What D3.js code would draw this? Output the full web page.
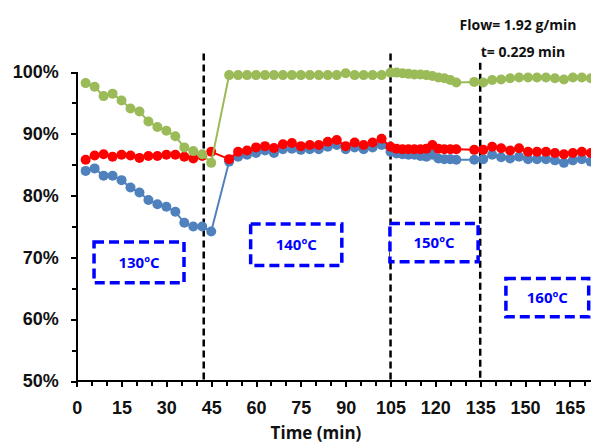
<!DOCTYPE html>
<html lang="en">
	<head>
		<meta charset="utf-8">
		<title>conversion vs time</title>
		<style>
			body {
				margin: 0;
				background-color: #ffffff;
				font-family: "Open Sans", "Liberation Sans", Arial, sans-serif;
			}
			.axis path,
			.axis line {
				fill: none;
				stroke: black;
				stroke-width: 2px;
				shape-rendering: crispEdges;
			}
			.axis text {
				font-size: 18px;
				font-weight: bold;
				fill: #111;
			}
			path.line {
				fill: none;
				stroke-width: 2px;
			}
			.tempbox rect {
				fill: white;
				stroke: #0000ff;
				stroke-width: 3.5px;
				stroke-dasharray: 10,5;
			}
			.tempbox text {
				fill: #0000ff;
				font-size: 15px;
				font-weight: bold;
			}
			.note {
				font-size: 14px;
				font-weight: bold;
				fill: #111;
			}
		</style>
	</head>
	<body>
		<script src="https://cdnjs.cloudflare.com/ajax/libs/d3/7.8.5/d3.min.js"></script>
		<script>

			// sample times (min)
			var times = [3,6,9,12,15,18,21,24,27,30,33,36,39,42,45,
				51,54,57,60,63,66,69,72,75,78,81,84,87,90,93,96,99,102,105,
				107,109,111,113,115,117,119,121,123,125,127,
				133,136,139,142,145,148,151,154,157,160,163,166,169,172];

			var greenValues = [98.2,97.6,96.1,96.5,95.4,94.1,93.6,92.0,91.1,90.5,89.6,87.8,87.2,86.7,85.3,
				99.5,99.5,99.5,99.5,99.5,99.5,99.5,99.5,99.5,99.5,99.5,99.5,99.5,99.8,99.5,99.5,99.5,99.5,99.9,
				99.9,99.8,99.7,99.6,99.6,99.5,99.35,99.1,99.0,98.7,98.3,
				98.4,98.3,98.7,98.8,99.0,99.1,99.1,99.1,99.1,99.0,98.8,99.1,99.1,99.0];

			var redValues = [85.8,86.5,86.7,86.3,86.6,86.5,86.1,86.4,86.4,86.6,86.6,86.3,86.0,86.4,87.1,
				85.9,87.1,87.3,87.8,88.0,87.7,88.3,88.5,88.0,88.2,88.2,88.7,89.0,88.0,88.6,88.2,88.6,89.2,87.9,
				87.6,87.5,87.5,87.5,87.5,87.6,88.2,87.6,87.5,87.5,87.5,
				87.4,87.4,87.9,87.65,87.3,87.65,87.1,87.1,87.1,86.9,86.7,86.9,87.1,86.9];

			var blueValues = [84.0,84.4,83.2,83.2,82.5,81.3,80.5,79.3,78.6,78.2,77.4,75.6,75.0,75.0,74.2,
				85.5,86.3,86.6,86.9,87.3,86.9,87.5,87.6,87.4,87.5,87.5,87.9,88.2,87.5,87.8,87.5,87.8,88.2,87.1,
				86.8,86.7,86.6,86.6,86.4,86.3,86.6,86.0,85.9,85.9,85.8,
				85.8,85.9,86.6,86.2,86.0,86.3,85.9,85.9,85.9,85.7,85.3,85.7,85.9,85.5];

			var xTicks = [0,15,30,45,60,75,90,105,120,135,150,165];
			var yTicks = [50,60,70,80,90,100];

			// temperature change times (dashed lines)
			var changeTimes = [42.5, 105, 135];
			var tempLabels = ["130ºC", "140ºC", "150ºC", "160ºC"];

			var fullwidth = 591;
			var fullheight = 445;

			var xScale = d3.scaleLinear()
				.domain([0, 180])
				.range([76.7, 76.7 + 538]);

			var yScale = d3.scaleLinear()
				.domain([50, 100])
				.range([381, 72]);

			var svg = d3.select("body")
				.append("svg")
				.attr("width", fullwidth)
				.attr("height", fullheight);

			// axes
			var xAxis = d3.axisBottom(xScale)
				.tickValues(xTicks)
				.tickSize(6)
				.tickPadding(14)
				.tickFormat(d3.format("d"));

			var xMinor = d3.axisBottom(xScale)
				.tickValues(d3.range(0, 181, 5))
				.tickSize(5)
				.tickFormat("");

			var yAxis = d3.axisLeft(yScale)
				.tickValues(yTicks)
				.tickSize(6)
				.tickPadding(12)
				.tickFormat(function(d) { return d + "%"; });

			var yMinor = d3.axisLeft(yScale)
				.tickValues(d3.range(50, 101, 5))
				.tickSize(5)
				.tickFormat("");

			svg.append("g")
				.attr("class", "x axis")
				.attr("transform", "translate(0," + yScale(50) + ")")
				.call(xMinor)
				.call(function(g) { g.select(".domain").remove(); });

			svg.append("g")
				.attr("class", "x axis")
				.attr("transform", "translate(0," + yScale(50) + ")")
				.call(xAxis)
				.call(function(g) { g.select(".domain").attr("d", "M" + xScale(0) + ",0H" + fullwidth); });

			svg.append("g")
				.attr("class", "y axis")
				.attr("transform", "translate(" + xScale(0) + ",0)")
				.call(yMinor)
				.call(function(g) { g.select(".domain").remove(); });

			svg.append("g")
				.attr("class", "y axis")
				.attr("transform", "translate(" + xScale(0) + ",0)")
				.call(yAxis)
				.call(function(g) { g.select(".domain").attr("d", "M0," + yScale(100) + "V" + (yScale(50) + 3)); });

			svg.append("text")
				.attr("x", 316)
				.attr("y", 439)
				.attr("text-anchor", "middle")
				.style("font-size", "17px")
				.style("font-weight", "bold")
				.attr("fill", "#111")
				.text("Time (min)");

			// dashed lines where the temperature changes
			svg.selectAll("line.change")
				.data(changeTimes)
				.enter()
				.append("line")
				.attr("class", "change")
				.attr("x1", function(d) { return xScale(d); })
				.attr("x2", function(d) { return xScale(d); })
				.attr("y1", function(d, i) { return yScale(i == 2 ? 101.5 : 103); })
				.attr("y2", yScale(50))
				.attr("stroke", "black")
				.attr("stroke-width", 2.5)
				.attr("stroke-dasharray", "7,4");

			// series
			var series = [
				{ name: "blue", color: "#4f81bd", values: blueValues },
				{ name: "red", color: "#ff0000", values: redValues },
				{ name: "green", color: "#9bbb59", values: greenValues }
			];

			var line = d3.line()
				.x(function(d) { return xScale(d.t); })
				.y(function(d) { return yScale(d.v); });

			var groups = svg.selectAll("g.series")
				.data(series)
				.enter()
				.append("g")
				.attr("class", "series");

			groups.append("path")
				.attr("class", "line")
				.attr("stroke", function(d) { return d.color; })
				.attr("d", function(d) {
					return line(times.map(function(t, i) { return { t: t, v: d.values[i] }; }));
				});

			groups.selectAll("circle")
				.data(function(d) {
					return times.map(function(t, i) { return { t: t, v: d.values[i], color: d.color }; });
				})
				.enter()
				.append("circle")
				.attr("cx", function(d) { return xScale(d.t); })
				.attr("cy", function(d) { return yScale(d.v); })
				.attr("r", 5)
				.attr("fill", function(d) { return d.color; });

			// temperature boxes: [t0, t1, top %, bottom %]
			var boxSpots = [
				[5.8, 35.9, 72.5, 65.9],
				[58.2, 88.7, 75.4, 68.7],
				[104.8, 134.3, 75.5, 69.3],
				[143.6, 171.3, 66.6, 60.4]
			];

			var boxes = svg.selectAll("g.tempbox")
				.data(tempLabels)
				.enter()
				.append("g")
				.attr("class", "tempbox");

			boxes.append("rect")
				.attr("x", function(d, i) { return xScale(boxSpots[i][0]); })
				.attr("y", function(d, i) { return yScale(boxSpots[i][2]); })
				.attr("width", function(d, i) { return xScale(boxSpots[i][1]) - xScale(boxSpots[i][0]); })
				.attr("height", function(d, i) { return yScale(boxSpots[i][3]) - yScale(boxSpots[i][2]); });

			boxes.append("text")
				.attr("x", function(d, i) { return (xScale(boxSpots[i][0]) + xScale(boxSpots[i][1])) / 2; })
				.attr("y", function(d, i) { return (yScale(boxSpots[i][2]) + yScale(boxSpots[i][3])) / 2; })
				.attr("dy", "0.36em")
				.attr("text-anchor", "middle")
				.text(function(d) { return d; });

			// flow notes
			svg.append("text")
				.attr("class", "note")
				.attr("x", 518)
				.attr("y", 30)
				.attr("text-anchor", "middle")
				.text("Flow= 1.92 g/min");

			svg.append("text")
				.attr("class", "note")
				.attr("x", 523)
				.attr("y", 57)
				.attr("text-anchor", "middle")
				.text("t= 0.229 min");

		</script>
	</body>
</html>
